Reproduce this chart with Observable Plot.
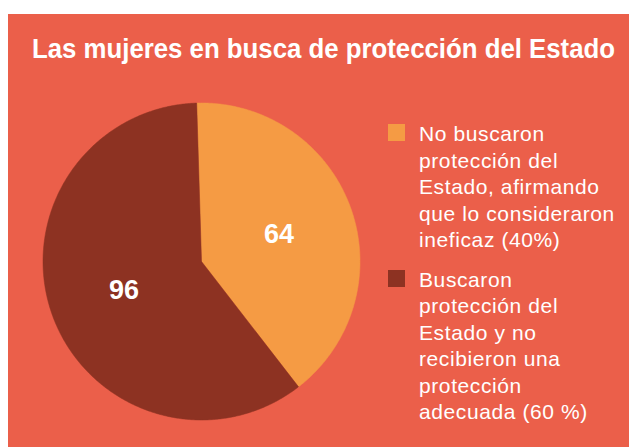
<!DOCTYPE html>
<html><head><meta charset="utf-8">
<script src="https://cdn.jsdelivr.net/npm/d3@7"></script>
<script src="https://cdn.jsdelivr.net/npm/@observablehq/plot@0.6"></script>
<style>
html,body{margin:0;padding:0;background:#fff;}
body{width:629px;height:447px;position:relative;overflow:hidden;font-family:"Liberation Sans",Arial,sans-serif;}
#panel{position:absolute;left:8px;top:14px;width:621px;height:433px;background:#EB5F4A;}
#title{position:absolute;left:32px;top:35px;white-space:nowrap;color:#fff;font-family:"Liberation Sans",Arial,sans-serif;font-weight:bold;font-size:28px;line-height:28px;transform-origin:0 0;}
#pie{position:absolute;left:31px;top:91px;}
.item{position:absolute;left:388px;}
.sw{position:absolute;left:0;width:17px;height:17px;}
.lab{position:absolute;left:31px;white-space:nowrap;color:#fff;font-size:21px;line-height:26.6px;letter-spacing:0.6px;}
</style>
</head><body>
<div id="panel"></div>
<div id="title">Las mujeres en busca de protección del Estado</div>
<div id="pie"></div>
<div id="legend"></div>
<script>
const title = "Las mujeres en busca de protección del Estado";
const categories = ["No buscaron protección del Estado", "Buscaron protección del Estado"];
const values = [64, 96];
const colors = ["#F59B44", "#8D3222"];
const legendLines = [
  ["No buscaron", "protección del", "Estado, afirmando", "que lo consideraron", "ineficaz (40%)"],
  ["Buscaron", "protección del", "Estado y no", "recibieron una", "protección", "adecuada (60 %)"]
];

// fit title width
const t = document.getElementById("title");
const w = t.getBoundingClientRect().width;
t.style.transform = `scaleX(${583 / w})`;

const data = categories.map((c, i) => ({key: c, value: values[i], color: colors[i]}));
const start = -1.74 * Math.PI / 180;
const arcs = d3.pie().sort(null).value(d => d.value).startAngle(start).endAngle(start + 2 * Math.PI)(data);

function slicePoints(a) {
  const pts = [{x: 0, y: 0}];
  const n = Math.max(2, Math.ceil((a.endAngle - a.startAngle) / (Math.PI / 360)));
  for (let i = 0; i <= n; i++) {
    const ang = a.startAngle + (a.endAngle - a.startAngle) * i / n;
    pts.push({x: Math.sin(ang), y: Math.cos(ang)});
  }
  pts.push({x: 0, y: 0});
  return pts;
}

const labelR = 0.52;
const pie = Plot.plot({
  width: 340, height: 340,
  marginTop: 11.5, marginBottom: 11.5, marginLeft: 11.5, marginRight: 11.5,
  x: {domain: [-1, 1], axis: null},
  y: {domain: [-1, 1], axis: null},
  style: {background: "transparent", fontFamily: "Liberation Sans, Arial, sans-serif", overflow: "visible"},
  marks: [
    ...arcs.map(a => Plot.line(slicePoints(a), {x: "x", y: "y", fill: a.data.color, stroke: a.data.color, strokeWidth: 0.5})),
    Plot.text(arcs, {
      x: a => labelR * Math.sin((a.startAngle + a.endAngle) / 2),
      y: a => labelR * Math.cos((a.startAngle + a.endAngle) / 2),
      text: a => String(a.data.value),
      dy: 1,
      fill: "white", fontSize: 27, fontWeight: "bold"
    })
  ]
});
document.getElementById("pie").appendChild(pie);

// legend
const legend = document.getElementById("legend");
const tops = [124, 269.5];
legendLines.forEach((lines, i) => {
  const item = document.createElement("div");
  item.className = "item";
  item.style.top = tops[i] + "px";
  const sw = document.createElement("div");
  sw.className = "sw";
  sw.style.background = colors[i];
  sw.style.top = "0px";
  const lab = document.createElement("div");
  lab.className = "lab";
  lab.style.top = "-3px";
  lab.innerHTML = lines.join("<br>");
  item.appendChild(sw);
  item.appendChild(lab);
  legend.appendChild(item);
});
</script>
</body></html>
